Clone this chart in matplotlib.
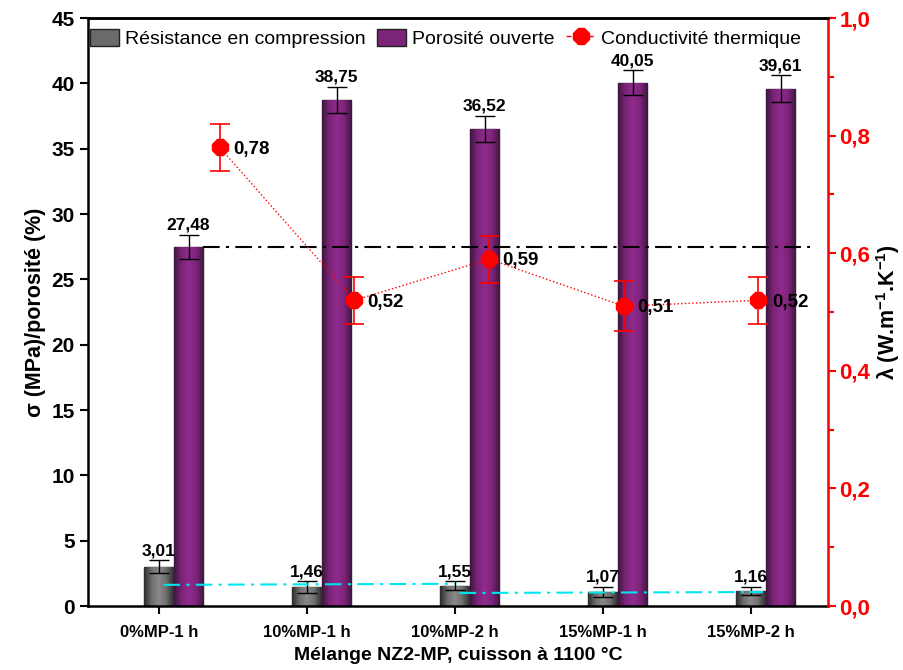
import numpy as np
import matplotlib
matplotlib.use("Agg")
import matplotlib.pyplot as plt
from matplotlib.colors import LinearSegmentedColormap
from matplotlib.lines import Line2D
from matplotlib.patches import Patch

plt.rcParams['font.family'] = ['Liberation Sans', 'DejaVu Sans']
plt.rcParams['mathtext.fontset'] = 'custom'
plt.rcParams['mathtext.rm'] = 'Liberation Sans'
plt.rcParams['mathtext.bf'] = 'Liberation Sans:bold'

# Données
categories = ['0%MP-1 h', '10%MP-1 h', '10%MP-2 h', '15%MP-1 h', '15%MP-2 h']
resistance = [3.01, 1.46, 1.55, 1.07, 1.16]
resistance_err = [0.5, 0.45, 0.35, 0.4, 0.3]
porosite = [27.48, 38.75, 36.52, 40.05, 39.61]
porosite_err = [0.95, 1.0, 1.0, 0.95, 1.0]
conductivite = [0.78, 0.52, 0.59, 0.51, 0.52]
conductivite_err = [0.04, 0.04, 0.04, 0.042, 0.04]

# lignes de repère (axe de gauche)
ref_porosite = porosite[0]
cyan_x1 = [0.03, 2.0]
cyan_y1 = [1.62, 1.70]
cyan_x2 = [2.03, 4.08]
cyan_y2 = [1.0, 1.07]


def fmt(v, n=2):
    return f"{v:.{n}f}".replace('.', ',')


fig = plt.figure(figsize=(9.04, 6.70), dpi=100)
ax = fig.add_axes([0.0973, 0.0955, 0.8187, 0.8775])
ax2 = ax.twinx()

x = np.arange(len(categories))
w = 0.2
x_gris = x
x_violet = x + w
x_rouge = np.linspace(0.41, 4.05, len(categories))

cmap_gris = LinearSegmentedColormap.from_list('g', ['#2e2e2e', '#6e6e6e', '#8a8a8a', '#6e6e6e', '#2e2e2e'])
cmap_violet = LinearSegmentedColormap.from_list('v', ['#3f1640', '#7c2479', '#902b8d', '#7c2479', '#3f1640'])
grad = np.linspace(0, 1, 64).reshape(1, -1)


def barres(xs, hs, couleur, cmap):
    bars = ax.bar(xs, hs, width=w, color=couleur, edgecolor='#222222', linewidth=1, zorder=2)
    for b in bars:
        x0, y0 = b.get_x(), b.get_y()
        im = ax.imshow(grad, extent=[x0, x0 + b.get_width(), y0, y0 + b.get_height()],
                       aspect='auto', cmap=cmap, zorder=2.1, interpolation='bilinear')
        im.set_clip_path(b)
    return bars


barres(x_gris, resistance, '#666666', cmap_gris)
barres(x_violet, porosite, '#7c2479', cmap_violet)

ax.errorbar(x_gris, resistance, yerr=resistance_err, fmt='none', ecolor='black',
            elinewidth=1, capsize=7, capthick=1, zorder=3)
ax.errorbar(x_violet, porosite, yerr=porosite_err, fmt='none', ecolor='black',
            elinewidth=1, capsize=7, capthick=1, zorder=3)

for xi, v, e in zip(x_gris, resistance, resistance_err):
    ax.text(xi, v + e + 0.15, fmt(v), ha='center', va='bottom', fontsize=12.5, fontweight='bold', zorder=5)
for xi, v, e in zip(x_violet, porosite, porosite_err):
    ax.text(xi, v + e + 0.15, fmt(v), ha='center', va='bottom', fontsize=12.5, fontweight='bold', zorder=5)

# lignes de repère
ax.plot([x_violet[0] + w / 2, x_violet[-1] + w / 2 + 0.1], [ref_porosite, ref_porosite],
        color='black', linestyle=(0, (8, 3, 1.5, 3)), linewidth=1.5, zorder=4)
ax.plot(cyan_x1, cyan_y1, color='#00e5ee', linestyle=(0, (8, 3, 1.5, 3)), linewidth=1.5, zorder=4)
ax.plot(cyan_x2, cyan_y2, color='#00e5ee', linestyle=(0, (8, 3, 1.5, 3)), linewidth=1.5, zorder=4)

# conductivité thermique
ax2.errorbar(x_rouge, conductivite, yerr=conductivite_err, color='red', ecolor='red',
             linestyle=':', linewidth=1, marker='8', markersize=12, elinewidth=1.2,
             capsize=7, capthick=1.2, zorder=5)
for xi, v in zip(x_rouge, conductivite):
    ax2.text(xi + 0.09, v - 0.003, fmt(v), ha='left', va='center', fontsize=13.5, fontweight='bold', zorder=6)

# axes
ax.set_xlim(-0.48, 4.52)
ax.set_ylim(0, 45)
ax2.set_ylim(0, 1.0)
ax.set_xticks(x)
ax.set_xticklabels(categories, fontsize=12, fontweight='bold')
ax.set_yticks(np.arange(0, 46, 5))
ax.set_yticklabels([str(v) for v in range(0, 46, 5)], fontsize=15, fontweight='bold')
ax.tick_params(axis='both', direction='out', length=6, width=1.5, color='black')
ax.tick_params(axis='x', pad=8)
ax2.set_yticks(np.arange(0, 1.01, 0.2))
ax2.set_yticklabels([fmt(v, 1) for v in np.arange(0, 1.01, 0.2)], fontsize=16, fontweight='bold', color='red')
ax2.set_yticks(np.arange(0.1, 1.0, 0.2), minor=True)
ax2.tick_params(axis='y', which='major', direction='out', length=6, width=1.5, color='red', pad=2)
ax2.tick_params(axis='y', which='minor', direction='out', length=4, width=1.5, color='red')

for s in ['left', 'bottom', 'top']:
    ax.spines[s].set_linewidth(1.8)
ax2.spines['right'].set_color('red')
ax2.spines['right'].set_linewidth(1.8)
ax2.spines['left'].set_visible(False)
ax2.spines['top'].set_linewidth(1.8)
ax2.spines['bottom'].set_visible(False)

ax.set_xlabel('Mélange NZ2-MP, cuisson à 1100 °C', fontsize=14, fontweight='bold', labelpad=5)
ax.set_ylabel('σ (MPa)/porosité (%)', fontsize=15.5, fontweight='bold', labelpad=4)
ax2.set_ylabel('λ (W.m$^{\\mathbf{-1}}$.K$^{\\mathbf{-1}}$)', fontsize=15.5, fontweight='bold', labelpad=3)

handles = [Patch(facecolor='#6a6a6a', edgecolor='#222222'),
           Patch(facecolor='#7c2479', edgecolor='#222222'),
           Line2D([], [], color='red', linestyle='--', linewidth=1, marker='8', markersize=13)]
labels = ['Résistance en compression', 'Porosité ouverte', 'Conductivité thermique']
ax2.legend(handles, labels, loc='upper left', bbox_to_anchor=(-0.012, 1.0), ncol=3,
           frameon=False, fontsize=14, handlelength=1.5, handleheight=1.0, handletextpad=0.3,
           columnspacing=0.6, borderaxespad=0.15)

fig.savefig('out.png', dpi=100)
